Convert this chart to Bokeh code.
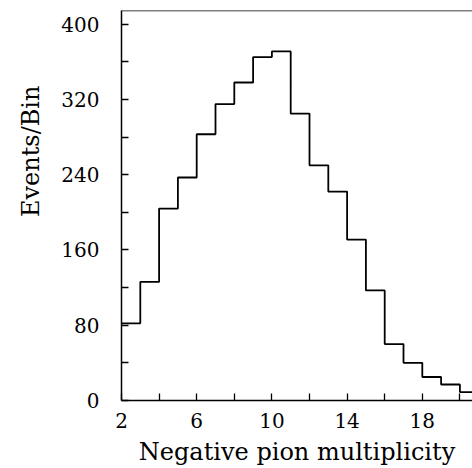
from bokeh.plotting import figure
from bokeh.models import FixedTicker, Span, Range1d, Title
from bokeh.embed import file_html
from bokeh.resources import INLINE

# Histogram data (bin lower edges and counts)
bin_edges = [2, 3, 4, 5, 6, 7, 8, 9, 10, 11, 12, 13, 14, 15, 16, 17, 18, 19, 20, 21]
counts = [82, 126, 204, 237, 283, 315, 338, 365, 371, 305, 250, 222, 171, 117, 60, 40, 25, 17, 9]
x_major = [2, 6, 10, 14, 18]
x_minor = [4, 8, 12, 16, 20]
y_major = [0, 80, 160, 240, 320, 400]
y_minor = [40, 120, 200, 280, 360]
x_title = "Negative pion multiplicity"
y_title = "Events/Bin"

FONT = "DejaVu Serif"
Y_TOP = 414.5

p = figure(width=472, height=468, output_backend="svg", toolbar_location=None,
           x_range=Range1d(2, 20.67), y_range=Range1d(0, Y_TOP),
           min_border_left=121, min_border_right=0, min_border_top=10, min_border_bottom=66)
p.grid.visible = False
p.outline_line_color = None
p.background_fill_color = "white"
p.border_fill_color = "white"

p.step(x=bin_edges, y=counts + [counts[-1]], mode="after", line_color="black", line_width=1.8)

top = Span(location=Y_TOP, dimension="width", line_color="black", line_width=1.5)
p.add_layout(top)

for ax in (p.xaxis[0], p.yaxis[0]):
    ax.axis_line_color = "black"
    ax.axis_line_width = 1.5
    ax.major_tick_in = 7
    ax.major_tick_out = 0
    ax.minor_tick_in = 7
    ax.minor_tick_out = 0
    ax.major_tick_line_width = 1.3
    ax.minor_tick_line_width = 1.3
    ax.major_tick_line_color = "black"
    ax.minor_tick_line_color = "black"
    ax.major_label_text_font = FONT
    ax.major_label_text_font_size = "20px"
    ax.major_label_text_color = "black"

p.xaxis[0].ticker = FixedTicker(ticks=x_major, minor_ticks=x_minor)
p.yaxis[0].ticker = FixedTicker(ticks=y_major, minor_ticks=y_minor)
p.xaxis[0].major_label_standoff = 12
p.yaxis[0].major_label_standoff = 22

p.xaxis[0].axis_label = x_title
p.xaxis[0].axis_label_text_font = FONT
p.xaxis[0].axis_label_text_font_size = "24px"
p.xaxis[0].axis_label_text_font_style = "normal"
p.xaxis[0].axis_label_text_color = "black"
p.xaxis[0].axis_label_standoff = 7

ytitle = Title(text=y_title, align="right", offset=75, standoff=27,
               vertical_align="bottom",
               text_font=FONT, text_font_size="24px", text_font_style="normal",
               text_color="black")
p.add_layout(ytitle, "left")

open("out.html", "w").write(file_html(p, INLINE))
